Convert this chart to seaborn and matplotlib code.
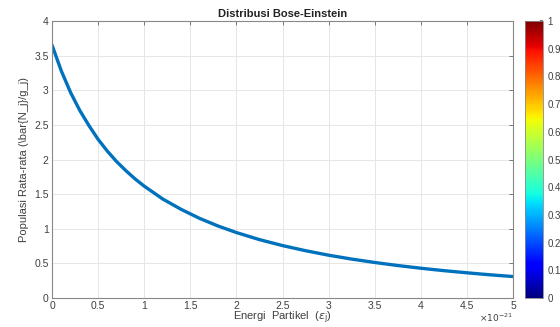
import numpy as np
import pandas as pd
import matplotlib
matplotlib.use("Agg")
import matplotlib.pyplot as plt
import seaborn as sns

# Energy (units of 1e-21 J) and mean population
energy = [0.0, 0.1, 0.2, 0.3, 0.4, 0.5, 0.6, 0.7, 0.8, 0.9, 1.0,
          1.2, 1.4, 1.6, 1.8, 2.0, 2.25, 2.5, 2.75, 3.0, 3.25,
          3.5, 3.75, 4.0, 4.25, 4.5, 4.75, 5.0]
population = [3.65, 3.28, 2.97, 2.71, 2.49, 2.29, 2.12, 1.97, 1.84, 1.72, 1.615,
              1.43, 1.28, 1.15, 1.04, 0.945, 0.843, 0.757, 0.683, 0.618, 0.562,
              0.513, 0.469, 0.430, 0.395, 0.364, 0.335, 0.310]
xticks = [0, 0.5, 1, 1.5, 2, 2.5, 3, 3.5, 4, 4.5, 5]
yticks = [0, 0.5, 1, 1.5, 2, 2.5, 3, 3.5, 4]
cbar_ticks = [0, 0.1, 0.2, 0.3, 0.4, 0.5, 0.6, 0.7, 0.8, 0.9, 1]

sns.set_theme(style="whitegrid")
plt.rcParams['font.family'] = ['Liberation Sans', 'DejaVu Sans']
plt.rcParams['lines.solid_joinstyle'] = 'round'
txt = '#404040'

df = pd.DataFrame({'E': energy, 'N': population})

fig = plt.figure(figsize=(5.6, 3.27), dpi=100)
fig.patch.set_facecolor('white')
ax = fig.add_axes([0.093, 0.0887, 0.823, 0.847])
ax.set_facecolor('white')
sns.lineplot(data=df, x='E', y='N', ax=ax, color='#0072BD', linewidth=2.4)
ax.set_xlim(0, 5)
ax.set_ylim(0, 4)
ax.set_xticks(xticks)
ax.set_yticks(yticks)
ax.set_xticklabels([f'{t:g}' for t in xticks])
ax.set_yticklabels([f'{t:g}' for t in yticks])
ax.grid(True, color='#e6e6e6', linewidth=0.7)
for s in ax.spines.values():
    s.set_visible(True)
    s.set_color('#888888')
    s.set_linewidth(0.8)
ax.tick_params(axis='both', direction='in', length=3, width=0.6, color='#666666',
               labelsize=7.5, labelcolor=txt, top=True, right=True, pad=2.5)
ax.set_title('Distribusi Bose-Einstein', fontsize=8, fontweight='bold', color='#222222', pad=3)
ax.set_xlabel(r'Energi  Partikel  ($\epsilon_{\rm j}$)', fontsize=8, color=txt, labelpad=-1)
ax.set_ylabel(r'Populasi Rata-rata (\bar{N_j}/g_j)', fontsize=8, color=txt, labelpad=4)
ax.text(1.0, -0.072, r'$\times10^{-21}$', transform=ax.transAxes, ha='right', va='center',
        fontsize=6.5, color=txt)

cax = fig.add_axes([0.9375, 0.0887, 0.032, 0.847])
sm = matplotlib.cm.ScalarMappable(norm=matplotlib.colors.Normalize(0, 1), cmap='jet')
cb = fig.colorbar(sm, cax=cax, ticks=cbar_ticks)
cb.ax.set_yticklabels([f'{t:g}' for t in cbar_ticks])
cb.ax.tick_params(labelsize=7, labelcolor=txt, direction='in', length=2, color='#666666')
cb.outline.set_edgecolor('#888888')
cb.outline.set_linewidth(0.6)

fig.savefig('out.png', dpi=100)
